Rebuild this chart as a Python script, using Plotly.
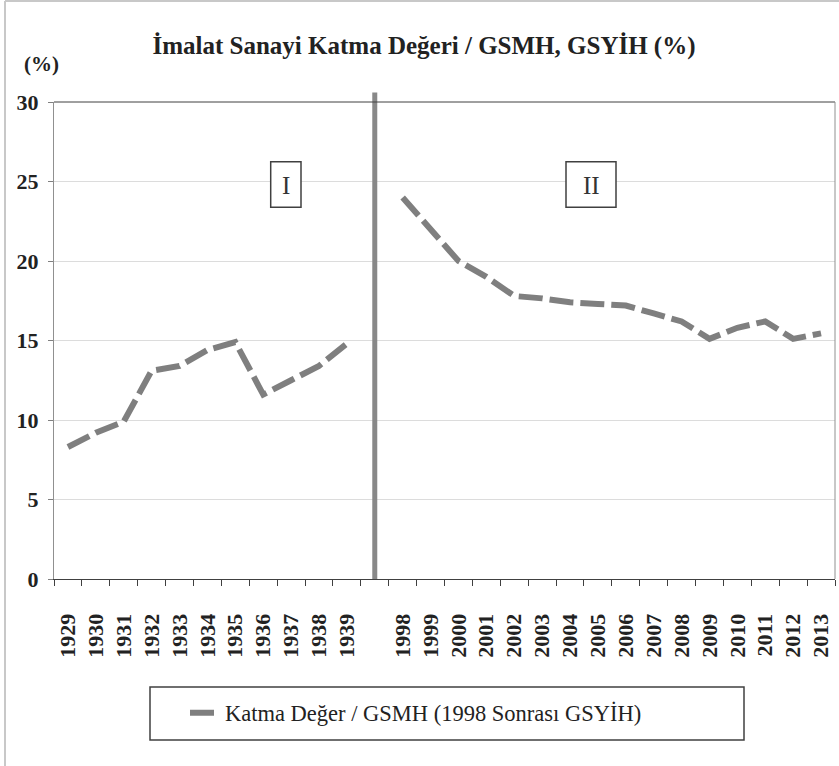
import plotly.graph_objects as go

# ---- data ----
years_1 = ["1929", "1930", "1931", "1932", "1933", "1934", "1935", "1936", "1937", "1938", "1939"]
values_1 = [8.3, 9.2, 9.9, 13.1, 13.4, 14.4, 14.9, 11.6, 12.5, 13.4, 14.8]
gap_label = [" "]
years_2 = ["1998", "1999", "2000", "2001", "2002", "2003", "2004", "2005",
           "2006", "2007", "2008", "2009", "2010", "2011", "2012", "2013"]
values_2 = [24.0, 22.0, 20.0, 19.0, 17.8, 17.65, 17.4, 17.3, 17.2, 16.7, 16.2, 15.1, 15.8, 16.2, 15.1, 15.45]
series_name = "Katma Değer / GSMH (1998 Sonrası GSYİH)"
title_text = "İmalat Sanayi Katma Değeri / GSMH, GSYİH (%)"
period_labels = ["I", "II"]

categories = years_1 + gap_label + years_2
values = values_1 + [None] + values_2
gap_index = categories.index(" ")

W, H = 839, 766
L, R, T, B = 54, 835, 102, 579
pw, ph = R - L, B - T

def px(x):
    return (x - L) / pw

def py(y):
    return (B - y) / ph

SERIF = "Liberation Serif"
GRAY = "#7f7f7f"

fig = go.Figure()
fig.add_trace(go.Scatter(
    x=categories, y=values, mode="lines", name=series_name,
    line=dict(color=GRAY, width=6, dash="24px,7px"),
    connectgaps=False, showlegend=True,
))

shapes = []
# vertical separator at gap category
shapes.append(dict(type="line", xref="x", yref="paper", x0=gap_index, x1=gap_index,
                   y0=0, y1=py(92.5), line=dict(color="#888888", width=5)))
# top border & right border of plot
shapes.append(dict(type="line", xref="paper", yref="paper", x0=0, x1=1, y0=1, y1=1,
                   line=dict(color="#404040", width=1)))
shapes.append(dict(type="line", xref="paper", yref="paper", x0=1, x1=1, y0=0, y1=1,
                   line=dict(color="#909090", width=1)))
# period boxes
for (x0, x1) in [(270.7, 301), (566, 616)]:
    shapes.append(dict(type="rect", xref="paper", yref="paper",
                       x0=px(x0), x1=px(x1), y0=py(207.3), y1=py(161.7),
                       line=dict(color="#404040", width=1.5), fillcolor="white"))
# legend box
shapes.append(dict(type="rect", xref="paper", yref="paper",
                   x0=px(150), x1=px(744), y0=py(740), y1=py(687),
                   line=dict(color="#404040", width=1.5)))
# outer chart frame (left and top)
shapes.append(dict(type="line", xref="paper", yref="paper", x0=px(5), x1=px(5),
                   y0=py(1), y1=py(800), line=dict(color="#c8c8c8", width=2)))
shapes.append(dict(type="line", xref="paper", yref="paper", x0=px(5), x1=px(900),
                   y0=py(1), y1=py(1), line=dict(color="#c8c8c8", width=2)))

annotations = []
for lbl, cx in zip(period_labels, [286, 591]):
    annotations.append(dict(text=lbl, xref="paper", yref="paper", x=px(cx), y=py(185),
                            xanchor="center", yanchor="middle", showarrow=False,
                            font=dict(family=SERIF, size=25, color="#333333")))
annotations.append(dict(text="<b>(%)</b>", xref="paper", yref="paper", x=px(41), y=py(64),
                        xanchor="center", yanchor="middle", showarrow=False,
                        font=dict(family=SERIF, size=21, color="#222222")))

fig.update_layout(
    width=W, height=H,
    margin=dict(l=L, r=W - R, t=T, b=H - B, autoexpand=False),
    paper_bgcolor="white", plot_bgcolor="white",
    font=dict(family=SERIF, color="#222222"),
    title=dict(text="<b>" + title_text + "</b>", xref="container", yref="container",
               x=424 / W, y=1 - 45 / H, xanchor="center", yanchor="middle",
               font=dict(family=SERIF, size=25, color="#222222")),
    shapes=shapes, annotations=annotations,
    showlegend=True,
    legend=dict(x=px(416), y=py(713), xanchor="center", yanchor="middle",
                orientation="h", bgcolor="rgba(0,0,0,0)",
                font=dict(family=SERIF, size=22.5, color="#222222")),
    xaxis=dict(type="category", categoryorder="array", categoryarray=categories,
               tickson="boundaries", ticks="outside", ticklen=6, tickcolor="#404040",
               showline=True, linecolor="#404040", linewidth=1, showgrid=False,
               tickangle=-90, ticklabelstandoff=25, automargin=False,
               tickfont=dict(family=SERIF, size=22, color="#222222"),
               range=[-0.5, len(categories) - 0.5], zeroline=False),
    yaxis=dict(range=[0, 30], dtick=5, tick0=0, ticks="outside", ticklen=5,
               tickcolor="#808080", showline=True, linecolor="#909090", linewidth=1,
               showgrid=True, gridcolor="#dcdcdc", gridwidth=1, zeroline=False,
               tickprefix="<b>", ticksuffix="</b>", automargin=False,
               ticklabelstandoff=5,
               tickfont=dict(family=SERIF, size=22, color="#222222")),
)
fig.update_xaxes(tickprefix="<b>", ticksuffix="</b>")

fig.write_html("out.html", config={"displayModeBar": False},
               post_script="document.body.style.margin='0';")
